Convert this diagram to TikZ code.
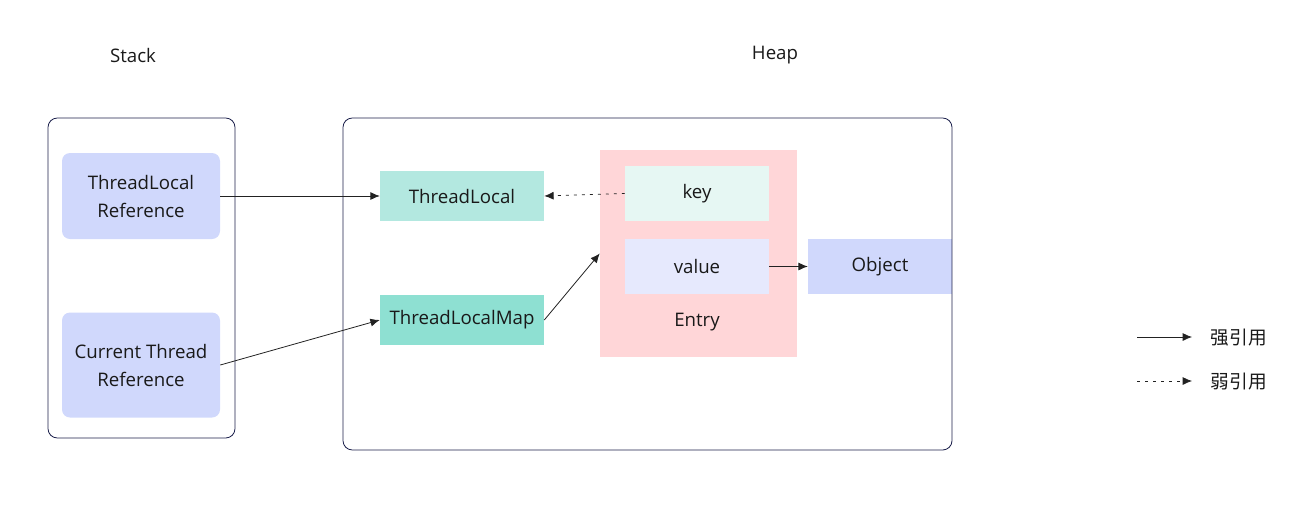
\documentclass[tikz,border=0pt]{standalone}
\usepackage{fontspec}
\setmainfont{Open Sans}
\newfontfamily\cjk{Noto Sans CJK SC}
\usepackage{xcolor}
\usepackage{tikz}
\usetikzlibrary{arrows.meta,positioning}
\definecolor{frameblue}{HTML}{1B1F4B}
\definecolor{refblue}{HTML}{D0D8FC}
\definecolor{tlgreen}{HTML}{B3E8E0}
\definecolor{mapgreen}{HTML}{8EE0D2}
\definecolor{entrypink}{HTML}{FFD6D8}
\definecolor{keygreen}{HTML}{E6F7F3}
\definecolor{valblue}{HTML}{E6E9FD}
\definecolor{arrgray}{HTML}{222222}

\begin{document}
\begin{tikzpicture}[
  x=0.75pt, y=-0.75pt,
  every node/.style={font=\fontsize{14}{21}\selectfont, text=black!90},
  area/.style={draw=frameblue, rounded corners=7pt, line width=0.6pt},
  refbox/.style={fill=refblue, rounded corners=6pt, align=center,
    minimum width=118.5pt},
  heapbox/.style={minimum width=123pt, minimum height=37.5pt},
  cell/.style={minimum width=108pt, minimum height=41.25pt},
  strong/.style={-{Latex[length=7pt,width=6pt]}, arrgray, line width=0.6pt},
  weak/.style={strong, dash pattern=on 2.2pt off 3.8pt}
]
  \useasboundingbox (0,0) rectangle (1313,515);
  % titles
  \node (stacklbl) at (133,55) {Stack};
  \node (heaplbl) at (775,55) {Heap};
  % stack side
  \node[area, minimum width=140.25pt, minimum height=240pt] (stack) at (141.5,278) {};
  \node[refbox, minimum height=64.5pt] (tlref) at (141,196) {ThreadLocal\\Reference};
  \node[refbox, minimum height=78.75pt] (ctref) at (141,365) {Current Thread\\Reference};
  % heap side
  \node[heapbox, fill=tlgreen] (tl) at (462,196) {ThreadLocal};
  \node[heapbox, fill=mapgreen] (tlmap) at (462,320) {ThreadLocalMap};
  \node[fill=entrypink, minimum width=147.75pt, minimum height=155.25pt] (entry) at (698.5,253.5) {};
  \node[cell, fill=keygreen] (key) at (697,193.5) {key};
  \node[cell, fill=valblue] (value) at (697,266.5) {value};
  \node (entrylbl) at (697,322) {Entry};
  \node[cell, fill=refblue] (obj) at (880,266.5) {Object};
  \node[area, minimum width=456.75pt, minimum height=249pt] (heap) at (647.5,284) {};
  % references
  \draw[strong] (tlref.east) -- (tl.west);
  \draw[strong] (ctref.east) -- (tlmap.west);
  \draw[weak] (key.west) -- (tl.east);
  \draw[strong] (tlmap.east) -- (entry.west);
  \draw[strong] (value.east) -- (obj.west);
  % legend
  \coordinate (s1) at (1137,337);
  \coordinate (s2) at (1192,337);
  \coordinate (w1) at (1137,381);
  \coordinate (w2) at (1192,381);
  \draw[strong] (s1) -- (s2);
  \draw[weak] (w1) -- (w2);
  \node[anchor=west, font=\cjk\fontsize{14}{21}\selectfont] (stronglbl) at (1206,338) {强引用};
  \node[anchor=west, font=\cjk\fontsize{14}{21}\selectfont] (weaklbl) at (1206,382) {弱引用};
\end{tikzpicture}
\end{document}
